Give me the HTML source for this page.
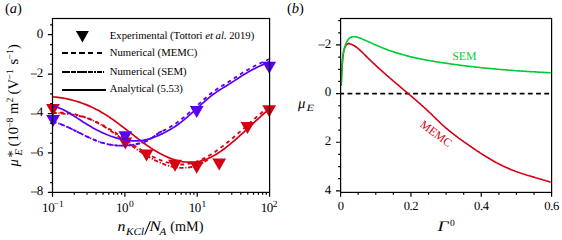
<!DOCTYPE html><html><head><meta charset="utf-8"><style>html,body{margin:0;padding:0;background:#fff;}svg{display:block;}text{font-family:"Liberation Serif",serif;text-rendering:geometricPrecision;}</style></head><body>
<svg width="562" height="237" viewBox="0 0 562 237">
<g fill="none">
<path d="M52.5,96.8 L54.3,97.0 L56.1,97.2 L58.0,97.4 L59.8,97.6 L61.6,97.9 L63.4,98.2 L65.3,98.5 L67.1,98.9 L68.9,99.3 L70.7,99.7 L72.6,100.2 L74.4,100.7 L76.2,101.2 L78.0,101.8 L79.9,102.4 L81.7,103.0 L83.5,103.7 L85.3,104.4 L87.2,105.1 L89.0,105.9 L90.8,106.7 L92.6,107.6 L94.5,108.4 L96.3,109.4 L98.1,110.3 L99.9,111.3 L101.8,112.4 L103.6,113.4 L105.4,114.6 L107.2,115.7 L109.1,116.9 L110.9,118.2 L112.7,119.4 L114.5,120.7 L116.4,122.1 L118.2,123.4 L120.0,124.8 L121.8,126.2 L123.7,127.6 L125.5,129.0 L127.3,130.4 L129.1,131.8 L130.9,133.2 L132.8,134.7 L134.6,136.1 L136.4,137.5 L138.2,138.9 L140.1,140.3 L141.9,141.6 L143.7,143.0 L145.5,144.3 L147.4,145.6 L149.2,146.8 L151.0,148.1 L152.8,149.3 L154.7,150.4 L156.5,151.5 L158.3,152.6 L160.1,153.6 L162.0,154.5 L163.8,155.5 L165.6,156.3 L167.4,157.1 L169.3,157.9 L171.1,158.6 L172.9,159.2 L174.7,159.8 L176.6,160.3 L178.4,160.8 L180.2,161.2 L182.0,161.6 L183.9,161.8 L185.7,162.0 L187.5,162.2 L189.3,162.2 L191.2,162.2 L193.0,162.2 L194.8,162.0 L196.6,161.8 L198.4,161.5 L200.3,161.1 L202.1,160.6 L203.9,160.1 L205.7,159.4 L207.6,158.7 L209.4,157.9 L211.2,157.1 L213.0,156.1 L214.9,155.1 L216.7,154.0 L218.5,152.8 L220.3,151.6 L222.2,150.3 L224.0,149.0 L225.8,147.6 L227.6,146.2 L229.5,144.7 L231.3,143.2 L233.1,141.7 L234.9,140.1 L236.8,138.5 L238.6,136.9 L240.4,135.2 L242.2,133.6 L244.1,131.9 L245.9,130.2 L247.7,128.5 L249.5,126.8 L251.4,125.1 L253.2,123.4 L255.0,121.7 L256.8,120.0 L258.7,118.3 L260.5,116.7 L262.3,115.0 L264.1,113.4 L266.0,111.8 L267.8,110.3 L269.6,108.7" stroke="#d50014" stroke-width="1.70"/>
<path d="M52.5,113.1 L54.3,112.9 L56.1,112.8 L58.0,112.7 L59.8,112.6 L61.6,112.6 L63.4,112.7 L65.3,112.8 L67.1,113.0 L68.9,113.2 L70.7,113.5 L72.6,113.8 L74.4,114.2 L76.2,114.6 L78.0,115.0 L79.9,115.5 L81.7,116.1 L83.5,116.7 L85.3,117.3 L87.2,118.0 L89.0,118.7 L90.8,119.4 L92.6,120.2 L94.5,121.0 L96.3,121.9 L98.1,122.8 L99.9,123.7 L101.8,124.7 L103.6,125.6 L105.4,126.7 L107.2,127.7 L109.1,128.8 L110.9,129.9 L112.7,131.0 L114.5,132.2 L116.4,133.3 L118.2,134.5 L120.0,135.8 L121.8,137.0 L123.7,138.2 L125.5,139.5 L127.3,140.7 L129.1,142.0 L130.9,143.2 L132.8,144.5 L134.6,145.7 L136.4,146.9 L138.2,148.1 L140.1,149.3 L141.9,150.4 L143.7,151.6 L145.5,152.7 L147.4,153.7 L149.2,154.7 L151.0,155.7 L152.8,156.7 L154.7,157.6 L156.5,158.4 L158.3,159.3 L160.1,160.0 L162.0,160.7 L163.8,161.4 L165.6,162.0 L167.4,162.5 L169.3,163.0 L171.1,163.5 L172.9,163.8 L174.7,164.1 L176.6,164.3 L178.4,164.5 L180.2,164.5 L182.0,164.5 L183.9,164.5 L185.7,164.3 L187.5,164.0 L189.3,163.7 L191.2,163.3 L193.0,162.8 L194.8,162.3 L196.6,161.6 L198.4,160.9 L200.3,160.1 L202.1,159.3 L203.9,158.4 L205.7,157.5 L207.6,156.4 L209.4,155.4 L211.2,154.3 L213.0,153.1 L214.9,151.9 L216.7,150.6 L218.5,149.3 L220.3,148.0 L222.2,146.6 L224.0,145.2 L225.8,143.7 L227.6,142.2 L229.5,140.7 L231.3,139.2 L233.1,137.7 L234.9,136.1 L236.8,134.5 L238.6,132.9 L240.4,131.3 L242.2,129.7 L244.1,128.1 L245.9,126.4 L247.7,124.8 L249.5,123.2 L251.4,121.5 L253.2,119.9 L255.0,118.3 L256.8,116.7 L258.7,115.1 L260.5,113.6 L262.3,112.0 L264.1,110.5 L266.0,109.0 L267.8,107.5 L269.6,106.0" stroke="#d50014" stroke-width="1.80" stroke-dasharray="3.8 3.6"/>
<path d="M52.5,112.8 L54.3,112.9 L56.1,113.0 L58.0,113.2 L59.8,113.3 L61.6,113.5 L63.4,113.6 L65.3,113.8 L67.1,114.0 L68.9,114.2 L70.7,114.4 L72.6,114.7 L74.4,115.0 L76.2,115.3 L78.0,115.7 L79.9,116.1 L81.7,116.6 L83.5,117.1 L85.3,117.6 L87.2,118.2 L89.0,118.9 L90.8,119.6 L92.6,120.4 L94.5,121.3 L96.3,122.2 L98.1,123.1 L99.9,124.1 L101.8,125.2 L103.6,126.3 L105.4,127.4 L107.2,128.5 L109.1,129.7 L110.9,131.0 L112.7,132.2 L114.5,133.5 L116.4,134.8 L118.2,136.1 L120.0,137.4 L121.8,138.7 L123.7,140.0 L125.5,141.3 L127.3,142.6 L129.1,144.0 L130.9,145.3 L132.8,146.5 L134.6,147.8 L136.4,149.1 L138.2,150.3 L140.1,151.5 L141.9,152.7 L143.7,153.8 L145.5,155.0 L147.4,156.1 L149.2,157.1 L151.0,158.1 L152.8,159.1 L154.7,160.1 L156.5,161.0 L158.3,161.8 L160.1,162.6 L162.0,163.4 L163.8,164.1 L165.6,164.8 L167.4,165.4 L169.3,165.9 L171.1,166.4 L172.9,166.8 L174.7,167.1 L176.6,167.4 L178.4,167.6 L180.2,167.8 L182.0,167.8 L183.9,167.8 L185.7,167.7 L187.5,167.6 L189.3,167.3 L191.2,167.0 L193.0,166.6 L194.8,166.1 L196.6,165.5 L198.4,164.8 L200.3,164.0 L202.1,163.1 L203.9,162.1 L205.7,161.0 L207.6,159.9" stroke="#d50014" stroke-width="1.80" stroke-dasharray="4.2 1.8 1.2 1.6"/>
</g>
<path d="M46.10,104.00 L59.90,104.00 L53.00,116.00 Z" fill="#d50014"/>
<path d="M118.40,137.50 L132.20,137.50 L125.30,149.50 Z" fill="#d50014"/>
<path d="M139.60,149.60 L153.40,149.60 L146.50,161.60 Z" fill="#d50014"/>
<path d="M168.10,159.80 L181.90,159.80 L175.00,171.80 Z" fill="#d50014"/>
<path d="M189.80,161.80 L203.60,161.80 L196.70,173.80 Z" fill="#d50014"/>
<path d="M212.30,158.60 L226.10,158.60 L219.20,170.60 Z" fill="#d50014"/>
<path d="M240.60,122.10 L254.40,122.10 L247.50,134.10 Z" fill="#d50014"/>
<path d="M262.30,105.20 L276.10,105.20 L269.20,117.20 Z" fill="#d50014"/>
<g fill="none">
<path d="M52.5,106.1 L54.3,106.4 L56.1,106.9 L58.0,107.5 L59.8,108.2 L61.6,109.0 L63.4,109.8 L65.3,110.8 L67.1,111.8 L68.9,112.8 L70.7,113.9 L72.6,115.1 L74.4,116.2 L76.2,117.4 L78.0,118.6 L79.9,119.8 L81.7,121.0 L83.5,122.2 L85.3,123.3 L87.2,124.5 L89.0,125.6 L90.8,126.6 L92.6,127.7 L94.5,128.7 L96.3,129.7 L98.1,130.6 L99.9,131.5 L101.8,132.4 L103.6,133.2 L105.4,134.0 L107.2,134.8 L109.1,135.5 L110.9,136.2 L112.7,136.8 L114.5,137.4 L116.4,137.9 L118.2,138.5 L120.0,138.9 L121.8,139.4 L123.7,139.7 L125.5,140.1 L127.3,140.3 L129.1,140.6 L130.9,140.7 L132.8,140.8 L134.6,140.9 L136.4,140.9 L138.2,140.8 L140.1,140.7 L141.9,140.5 L143.7,140.2 L145.5,139.8 L147.4,139.4 L149.2,138.9 L151.0,138.3 L152.8,137.7 L154.7,137.0 L156.5,136.3 L158.3,135.6 L160.1,134.7 L162.0,133.9 L163.8,133.0 L165.6,132.1 L167.4,131.1 L169.3,130.1 L171.1,129.0 L172.9,127.9 L174.7,126.7 L176.6,125.5 L178.4,124.2 L180.2,122.8 L182.0,121.4 L183.9,119.9 L185.7,118.4 L187.5,116.8 L189.3,115.2 L191.2,113.6 L193.0,112.0 L194.8,110.3 L196.6,108.6 L198.4,107.0 L200.3,105.3 L202.1,103.7 L203.9,102.1 L205.7,100.5 L207.6,98.9 L209.4,97.4 L211.2,95.9 L213.0,94.5 L214.9,93.2 L216.7,91.9 L218.5,90.7 L220.3,89.6 L222.2,88.4 L224.0,87.3 L225.8,86.2 L227.6,85.1 L229.5,83.9 L231.3,82.8 L233.1,81.6 L234.9,80.4 L236.8,79.2 L238.6,78.0 L240.4,76.8 L242.2,75.6 L244.1,74.5 L245.9,73.4 L247.7,72.3 L249.5,71.3 L251.4,70.3 L253.2,69.3 L255.0,68.4 L256.8,67.5 L258.7,66.6 L260.5,65.7 L262.3,64.9 L264.1,64.0 L266.0,63.2 L267.8,62.4 L269.6,61.6" stroke="#5a00f0" stroke-width="1.70"/>
<path d="M52.5,121.6 L54.2,122.1 L56.0,122.6 L57.7,123.1 L59.5,123.7 L61.2,124.4 L63.0,125.0 L64.7,125.8 L66.5,126.5 L68.2,127.3 L69.9,128.1 L71.7,129.0 L73.4,129.8 L75.2,130.7 L76.9,131.6 L78.7,132.5 L80.4,133.3 L82.1,134.2 L83.9,135.1 L85.6,136.0 L87.4,136.8 L89.1,137.6 L90.9,138.4 L92.6,139.2 L94.4,139.9 L96.1,140.6 L97.8,141.3 L99.6,141.9 L101.3,142.5 L103.1,143.0 L104.8,143.4 L106.6,143.9 L108.3,144.3 L110.1,144.6 L111.8,144.9 L113.5,145.1 L115.3,145.3 L117.0,145.5 L118.8,145.6 L120.5,145.7 L122.3,145.7 L124.0,145.6 L125.8,145.6 L127.5,145.4 L129.2,145.3 L131.0,145.1 L132.7,144.8 L134.5,144.5 L136.2,144.1 L138.0,143.7 L139.7,143.3 L141.4,142.8 L143.2,142.3 L144.9,141.7 L146.7,141.0 L148.4,140.4 L160.1,132.1 L162.0,131.3 L163.8,130.4 L165.6,129.5 L167.4,128.5 L169.3,127.5 L171.1,126.4 L172.9,125.3 L174.7,124.1 L176.6,122.9 L178.4,121.6 L180.2,120.2 L182.0,118.8 L183.9,117.3 L185.7,115.8 L187.5,114.2 L189.3,112.6 L191.2,111.0 L193.0,109.4 L194.8,107.7 L196.6,106.0 L198.4,104.4 L200.3,102.7 L202.1,101.1 L203.9,99.5 L205.7,97.9 L207.6,96.3 L209.4,94.8 L211.2,93.3 L213.0,91.9 L214.9,90.6 L216.7,89.3 L218.5,88.1 L220.3,87.0 L222.2,85.8 L224.0,84.7 L225.8,83.6 L227.6,82.5 L229.5,81.3 L231.3,80.2 L233.1,79.0 L234.9,77.8 L236.8,76.6 L238.6,75.4 L240.4,74.2 L242.2,73.0 L244.1,71.9 L245.9,70.8 L247.7,69.7 L249.5,68.7 L251.4,67.7 L253.2,66.7 L255.0,65.8 L256.8,64.9 L258.7,64.0 L260.5,63.1 L262.3,62.3 L264.1,61.4 L266.0,60.6 L267.8,59.8 L269.6,59.0" stroke="#5a00f0" stroke-width="1.80" stroke-dasharray="3.8 3.6"/>
<path d="M52.5,121.6 L54.2,122.1 L56.0,122.6 L57.7,123.1 L59.5,123.7 L61.2,124.4 L63.0,125.0 L64.7,125.8 L66.5,126.5 L68.2,127.3 L69.9,128.1 L71.7,129.0 L73.4,129.8 L75.2,130.7 L76.9,131.6 L78.7,132.5 L80.4,133.3 L82.1,134.2 L83.9,135.1 L85.6,136.0 L87.4,136.8 L89.1,137.6 L90.9,138.4 L92.6,139.2 L94.4,139.9 L96.1,140.6 L97.8,141.3 L99.6,141.9 L101.3,142.5 L103.1,143.0 L104.8,143.4 L106.6,143.9 L108.3,144.3 L110.1,144.6 L111.8,144.9 L113.5,145.1 L115.3,145.3 L117.0,145.5 L118.8,145.6 L120.5,145.7 L122.3,145.7 L124.0,145.6 L125.8,145.6 L127.5,145.4 L129.2,145.3 L131.0,145.1 L132.7,144.8 L134.5,144.5 L136.2,144.1 L138.0,143.7 L139.7,143.3 L141.4,142.8 L143.2,142.3 L144.9,141.7 L146.7,141.0 L148.4,140.4 L160.1,132.1 L162.0,131.3" stroke="#5a00f0" stroke-width="1.80" stroke-dasharray="4.2 1.8 1.2 1.6"/>
</g>
<path d="M46.20,115.10 L60.00,115.10 L53.10,127.10 Z" fill="#5a00f0"/>
<path d="M118.40,131.30 L132.20,131.30 L125.30,143.30 Z" fill="#5a00f0"/>
<path d="M189.80,106.10 L203.60,106.10 L196.70,118.10 Z" fill="#5a00f0"/>
<path d="M262.30,61.80 L276.10,61.80 L269.20,73.80 Z" fill="#5a00f0"/>
<path d="M340.6,93.60 H551.6" stroke="#000" stroke-width="1.6" stroke-dasharray="4.8 3.4" stroke-dashoffset="1.3"/>
<path d="M341.1,85.8 L341.1,84.8 L341.1,83.8 L341.2,82.8 L341.2,81.8 L341.2,80.9 L341.3,79.9 L341.3,78.9 L341.3,77.9 L341.4,76.9 L341.4,76.0 L341.5,75.0 L341.6,74.0 L341.6,73.0 L341.7,72.1 L341.7,71.1 L341.8,70.1 L341.9,69.2 L342.0,68.2 L342.0,67.2 L342.1,66.3 L342.2,65.3 L342.3,64.3 L342.4,63.4 L342.5,62.4 L342.5,61.4 L342.6,60.4 L342.7,59.5 L342.8,58.5 L342.9,57.5 L343.0,56.5 L343.2,55.6 L343.3,54.6 L343.4,53.6 L343.5,52.6 L343.7,51.6 L343.9,50.7 L344.1,49.7 L344.4,48.7 L344.8,47.8 L345.2,46.8 L345.7,45.9 L346.3,45.0 L347.0,44.3 L347.8,43.8 L348.6,43.5 L349.5,43.6 L350.3,43.9 L351.2,44.2 L352.1,44.6 L352.9,45.0 L353.7,45.5 L354.6,46.0 L355.4,46.5 L356.1,47.0 L356.9,47.6 L357.7,48.2 L358.4,48.8 L359.2,49.4 L359.9,50.1 L360.6,50.8 L361.3,51.4 L362.1,52.1 L362.8,52.8 L363.5,53.5 L364.2,54.2 L364.9,54.9 L365.6,55.6 L366.3,56.4 L367.0,57.1 L367.7,57.8 L368.4,58.4 L369.1,59.1 L369.9,59.8 L370.6,60.5 L371.3,61.2 L372.0,61.9 L372.7,62.6 L373.4,63.2 L374.2,63.9 L374.9,64.6 L375.6,65.3 L376.3,65.9 L377.0,66.6 L377.8,67.3 L378.5,67.9 L379.2,68.6 L379.9,69.2 L380.7,69.9 L381.4,70.5 L382.1,71.2 L382.9,71.9 L383.6,72.5 L384.3,73.1 L385.0,73.8 L385.8,74.4 L386.5,75.1 L387.2,75.7 L388.0,76.4 L388.7,77.0 L389.5,77.6 L390.2,78.3 L390.9,78.9 L391.7,79.5 L392.4,80.2 L393.1,80.8 L393.9,81.5 L394.6,82.1 L395.4,82.7 L396.1,83.3 L396.9,84.0 L397.6,84.6 L398.3,85.2 L399.1,85.9 L399.8,86.5 L400.6,87.1 L401.3,87.8 L402.1,88.4 L402.8,89.0 L403.5,89.7 L404.3,90.3 L405.0,90.9 L405.8,91.5 L406.5,92.2 L407.3,92.8 L408.0,93.4 L408.8,94.1 L409.5,94.7 L410.3,95.3 L411.0,96.0 L411.8,96.6 L412.5,97.2 L413.2,97.9 L414.0,98.5 L414.7,99.2 L415.5,99.8 L416.2,100.5 L417.0,101.1 L417.7,101.7 L418.4,102.4 L419.2,103.0 L419.9,103.7 L420.7,104.3 L421.4,105.0 L422.1,105.6 L422.9,106.3 L423.6,107.0 L424.3,107.6 L425.0,108.3 L425.8,108.9 L426.5,109.6 L427.2,110.3 L427.9,110.9 L428.6,111.6 L429.4,112.3 L430.1,113.0 L430.8,113.6 L431.5,114.3 L432.2,115.0 L432.9,115.7 L433.6,116.4 L434.3,117.0 L435.0,117.7 L435.7,118.4 L436.4,119.1 L437.1,119.8 L437.8,120.5 L438.5,121.2 L439.2,121.8 L439.9,122.5 L440.6,123.2 L441.3,123.9 L442.0,124.5 L442.7,125.2 L443.5,125.8 L444.2,126.5 L444.9,127.1 L445.7,127.8 L446.4,128.4 L447.2,129.0 L447.9,129.7 L448.7,130.3 L449.4,130.9 L450.2,131.5 L450.9,132.1 L451.7,132.7 L452.5,133.3 L453.3,133.9 L454.0,134.5 L454.8,135.1 L455.6,135.7 L456.4,136.3 L457.2,136.9 L457.9,137.5 L458.7,138.1 L459.5,138.6 L460.3,139.2 L461.1,139.8 L461.9,140.4 L462.7,140.9 L463.5,141.5 L464.3,142.1 L465.1,142.6 L465.9,143.2 L466.7,143.8 L467.5,144.3 L468.3,144.9 L469.1,145.4 L469.9,146.0 L470.8,146.5 L471.6,147.1 L472.4,147.7 L473.2,148.2 L474.0,148.8 L474.8,149.3 L475.6,149.9 L476.4,150.4 L477.2,151.0 L478.0,151.5 L478.9,152.0 L479.7,152.6 L480.5,153.1 L481.3,153.6 L482.1,154.2 L483.0,154.7 L483.8,155.2 L484.6,155.7 L485.5,156.3 L486.3,156.8 L487.1,157.3 L488.0,157.8 L488.8,158.3 L489.6,158.8 L490.5,159.3 L491.3,159.8 L492.2,160.3 L493.0,160.8 L493.9,161.2 L494.7,161.7 L495.6,162.2 L496.5,162.7 L497.3,163.1 L498.2,163.6 L499.1,164.0 L499.9,164.5 L500.8,164.9 L501.7,165.3 L502.6,165.8 L503.4,166.2 L504.3,166.6 L505.2,167.0 L506.1,167.4 L507.0,167.8 L507.9,168.2 L508.8,168.6 L509.7,169.0 L510.6,169.4 L511.5,169.8 L512.4,170.1 L513.3,170.5 L514.2,170.8 L515.1,171.2 L516.0,171.5 L517.0,171.8 L517.9,172.2 L518.8,172.5 L519.7,172.8 L520.7,173.1 L521.6,173.4 L522.5,173.7 L523.5,174.0 L524.4,174.3 L525.4,174.6 L526.3,174.9 L527.2,175.2 L528.2,175.5 L529.1,175.8 L530.1,176.0 L531.0,176.3 L531.9,176.6 L532.9,176.9 L533.8,177.1 L534.8,177.4 L535.7,177.7 L536.7,178.0 L537.6,178.2 L538.5,178.5 L539.5,178.8 L540.4,179.1 L541.4,179.3 L542.3,179.6 L543.2,179.9 L544.2,180.2 L545.1,180.4 L546.0,180.7 L547.0,181.0 L547.9,181.3 L548.8,181.6 L549.8,181.9 L550.7,182.2" stroke="#d50014" stroke-width="1.6" fill="none" stroke-linejoin="round"/>
<path d="M341.1,85.8 L341.2,84.9 L341.3,84.1 L341.4,83.2 L341.4,82.3 L341.5,81.5 L341.6,80.6 L341.6,79.7 L341.7,78.9 L341.7,78.0 L341.7,77.2 L341.8,76.3 L341.8,75.5 L341.8,74.6 L341.8,73.8 L341.9,72.9 L341.9,72.1 L341.9,71.2 L341.9,70.4 L341.9,69.5 L342.0,68.7 L342.0,67.8 L342.0,67.0 L342.0,66.1 L342.1,65.3 L342.1,64.5 L342.2,63.6 L342.2,62.8 L342.2,61.9 L342.3,61.1 L342.4,60.2 L342.4,59.4 L342.5,58.6 L342.6,57.7 L342.7,56.9 L342.8,56.0 L342.9,55.2 L343.1,54.3 L343.2,53.5 L343.4,52.7 L343.5,51.8 L343.7,51.0 L343.9,50.1 L344.1,49.3 L344.4,48.4 L344.6,47.6 L344.9,46.7 L345.1,45.9 L345.4,45.0 L345.7,44.2 L346.1,43.3 L346.4,42.5 L346.8,41.7 L347.2,40.9 L347.7,40.2 L348.1,39.5 L348.6,38.9 L349.2,38.3 L349.8,37.8 L350.4,37.5 L351.1,37.2 L351.8,36.9 L352.6,36.8 L353.4,36.7 L354.2,36.7 L355.0,36.8 L355.9,36.9 L356.7,37.1 L357.6,37.3 L358.4,37.6 L359.3,37.8 L360.1,38.1 L361.0,38.4 L361.8,38.8 L362.6,39.1 L363.4,39.5 L364.2,39.8 L365.0,40.2 L365.8,40.5 L366.6,40.9 L367.4,41.2 L368.2,41.6 L369.0,41.9 L369.8,42.3 L370.6,42.6 L371.4,43.0 L372.1,43.3 L372.9,43.7 L373.7,44.0 L374.5,44.4 L375.3,44.7 L376.0,45.1 L376.8,45.4 L377.6,45.8 L378.4,46.1 L379.2,46.4 L380.0,46.8 L380.7,47.1 L381.5,47.4 L382.3,47.8 L383.1,48.1 L383.9,48.4 L384.7,48.7 L385.5,49.0 L386.3,49.3 L387.1,49.6 L387.8,49.9 L388.6,50.2 L389.4,50.5 L390.2,50.8 L391.0,51.0 L391.9,51.3 L392.7,51.6 L393.5,51.9 L394.3,52.1 L395.1,52.4 L395.9,52.6 L396.7,52.9 L397.5,53.1 L398.3,53.4 L399.1,53.6 L400.0,53.9 L400.8,54.1 L401.6,54.3 L402.4,54.6 L403.2,54.8 L404.1,55.0 L404.9,55.2 L405.7,55.5 L406.5,55.7 L407.4,55.9 L408.2,56.1 L409.0,56.3 L409.8,56.5 L410.7,56.7 L411.5,56.9 L412.3,57.1 L413.2,57.3 L414.0,57.5 L414.8,57.7 L415.7,57.9 L416.5,58.1 L417.4,58.2 L418.2,58.4 L419.0,58.6 L419.9,58.8 L420.7,58.9 L421.5,59.1 L422.4,59.3 L423.2,59.4 L424.1,59.6 L424.9,59.8 L425.8,59.9 L426.6,60.1 L427.4,60.2 L428.3,60.4 L429.1,60.5 L430.0,60.7 L430.8,60.8 L431.7,61.0 L432.5,61.1 L433.4,61.3 L434.2,61.4 L435.1,61.6 L435.9,61.7 L436.7,61.8 L437.6,62.0 L438.4,62.1 L439.3,62.2 L440.1,62.4 L441.0,62.5 L441.8,62.6 L442.7,62.8 L443.5,62.9 L444.4,63.0 L445.2,63.1 L446.1,63.3 L446.9,63.4 L447.8,63.5 L448.6,63.6 L449.5,63.8 L450.3,63.9 L451.2,64.0 L452.0,64.1 L452.9,64.2 L453.7,64.3 L454.6,64.5 L455.4,64.6 L456.3,64.7 L457.1,64.8 L458.0,64.9 L458.8,65.0 L459.7,65.1 L460.5,65.2 L461.4,65.4 L462.2,65.5 L463.0,65.6 L463.9,65.7 L464.7,65.8 L465.6,65.9 L466.4,66.0 L467.3,66.1 L468.1,66.2 L469.0,66.3 L469.8,66.4 L470.7,66.5 L471.5,66.6 L472.4,66.7 L473.2,66.8 L474.1,66.9 L474.9,67.0 L475.8,67.1 L476.6,67.2 L477.5,67.3 L478.3,67.3 L479.2,67.4 L480.0,67.5 L480.9,67.6 L481.7,67.7 L482.6,67.8 L483.4,67.9 L484.3,68.0 L485.1,68.0 L486.0,68.1 L486.8,68.2 L487.7,68.3 L488.5,68.4 L489.4,68.5 L490.2,68.5 L491.1,68.6 L491.9,68.7 L492.8,68.8 L493.6,68.9 L494.5,68.9 L495.3,69.0 L496.2,69.1 L497.0,69.2 L497.9,69.2 L498.7,69.3 L499.6,69.4 L500.4,69.5 L501.3,69.5 L502.1,69.6 L503.0,69.7 L503.8,69.8 L504.7,69.8 L505.5,69.9 L506.4,70.0 L507.2,70.0 L508.1,70.1 L508.9,70.2 L509.8,70.2 L510.6,70.3 L511.5,70.4 L512.3,70.4 L513.2,70.5 L514.0,70.5 L514.9,70.6 L515.7,70.7 L516.6,70.7 L517.4,70.8 L518.3,70.9 L519.2,70.9 L520.0,71.0 L520.9,71.0 L521.7,71.1 L522.6,71.1 L523.4,71.2 L524.3,71.3 L525.1,71.3 L526.0,71.4 L526.8,71.4 L527.7,71.5 L528.5,71.5 L529.4,71.6 L530.3,71.6 L531.1,71.7 L532.0,71.7 L532.8,71.8 L533.7,71.8 L534.5,71.9 L535.4,71.9 L536.2,72.0 L537.1,72.0 L538.0,72.1 L538.8,72.1 L539.7,72.2 L540.5,72.2 L541.4,72.3 L542.2,72.3 L543.1,72.4 L543.9,72.4 L544.8,72.5 L545.7,72.5 L546.5,72.6 L547.4,72.6 L548.2,72.6 L549.1,72.7 L550.0,72.7 L550.8,72.8" stroke="#00cc33" stroke-width="1.6" fill="none" stroke-linejoin="round"/>
<path d="M50.10,24.84 H52.50 M47.90,34.70 H52.50 M50.10,44.56 H52.50 M50.10,54.41 H52.50 M50.10,64.27 H52.50 M47.90,74.12 H52.50 M50.10,83.98 H52.50 M50.10,93.84 H52.50 M50.10,103.69 H52.50 M47.90,113.55 H52.50 M50.10,123.41 H52.50 M50.10,133.26 H52.50 M50.10,143.12 H52.50 M47.90,152.97 H52.50 M50.10,162.83 H52.50 M50.10,172.69 H52.50 M50.10,182.54 H52.50 M47.90,192.40 H52.50 M52.50,192.40 V196.80 M74.28,192.40 V194.80 M87.03,192.40 V194.80 M96.07,192.40 V194.80 M103.08,192.40 V194.80 M108.81,192.40 V194.80 M113.66,192.40 V194.80 M117.85,192.40 V194.80 M121.56,192.40 V194.80 M124.87,192.40 V196.80 M146.65,192.40 V194.80 M159.39,192.40 V194.80 M168.44,192.40 V194.80 M175.45,192.40 V194.80 M181.18,192.40 V194.80 M186.02,192.40 V194.80 M190.22,192.40 V194.80 M193.92,192.40 V194.80 M197.23,192.40 V196.80 M219.02,192.40 V194.80 M231.76,192.40 V194.80 M240.80,192.40 V194.80 M247.82,192.40 V194.80 M253.55,192.40 V194.80 M258.39,192.40 V194.80 M262.59,192.40 V194.80 M266.29,192.40 V194.80 M269.60,192.40 V196.80" stroke="#000" stroke-width="1.20" fill="none"/>
<rect x="52.50" y="18.50" width="217.10" height="173.90" stroke="#000" stroke-width="1.20" fill="none"/>
<path d="M338.20,20.64 H340.60 M338.20,32.80 H340.60 M336.00,44.96 H340.60 M338.20,57.12 H340.60 M338.20,69.28 H340.60 M338.20,81.44 H340.60 M336.00,93.60 H340.60 M338.20,105.76 H340.60 M338.20,117.92 H340.60 M338.20,130.08 H340.60 M336.00,142.24 H340.60 M338.20,154.40 H340.60 M338.20,166.56 H340.60 M338.20,178.72 H340.60 M336.00,190.88 H340.60 M340.60,192.40 V196.80 M358.18,192.40 V194.80 M375.77,192.40 V194.80 M393.35,192.40 V194.80 M410.93,192.40 V196.80 M428.52,192.40 V194.80 M446.10,192.40 V194.80 M463.68,192.40 V194.80 M481.27,192.40 V196.80 M498.85,192.40 V194.80 M516.43,192.40 V194.80 M534.02,192.40 V194.80 M551.60,192.40 V196.80" stroke="#000" stroke-width="1.20" fill="none"/>
<rect x="340.60" y="18.50" width="211.00" height="173.90" stroke="#000" stroke-width="1.20" fill="none"/>
<text x="43.3" y="37.50" font-size="13.0" text-anchor="end">0</text>
<text x="43.3" y="76.92" font-size="13.0" text-anchor="end">2</text>
<rect x="30.8" y="73.20" width="6.2" height="1.6" fill="#000" fill-opacity="0.45"/>
<text x="43.3" y="116.35" font-size="13.0" text-anchor="end">4</text>
<rect x="30.8" y="113.20" width="6.2" height="1.6" fill="#000" fill-opacity="0.45"/>
<text x="43.3" y="155.78" font-size="13.0" text-anchor="end">6</text>
<rect x="30.8" y="152.20" width="6.2" height="1.6" fill="#000" fill-opacity="0.45"/>
<text x="43.3" y="195.20" font-size="13.0" text-anchor="end">8</text>
<rect x="30.8" y="191.20" width="6.2" height="1.6" fill="#000" fill-opacity="0.45"/>
<text x="41.96" y="211.9" font-size="13.0" letter-spacing="-0.3">10</text>
<text x="53.60" y="206.7" font-size="9.5">−1</text>
<text x="115.90" y="211.9" font-size="13.0" letter-spacing="-0.3">10</text>
<text x="128.90" y="206.7" font-size="9.5">0</text>
<text x="188.66" y="211.9" font-size="13.0" letter-spacing="-0.3">10</text>
<text x="201.50" y="206.7" font-size="9.5">1</text>
<text x="260.66" y="211.9" font-size="13.0" letter-spacing="-0.3">10</text>
<text x="272.80" y="206.7" font-size="9.5">2</text>
<text x="331.3" y="47.76" font-size="13.0" text-anchor="end">2</text>
<text x="331.3" y="96.40" font-size="13.0" text-anchor="end">0</text>
<text x="331.3" y="145.04" font-size="13.0" text-anchor="end">2</text>
<text x="331.3" y="193.68" font-size="13.0" text-anchor="end">4</text>
<rect x="318.5" y="44.20" width="6.3" height="1.6" fill="#000" fill-opacity="0.45"/>
<text x="340.60" y="209.8" font-size="12.6" text-anchor="middle" letter-spacing="-0.4">0</text>
<text x="410.93" y="209.8" font-size="12.6" text-anchor="middle" letter-spacing="-0.4">0.2</text>
<text x="481.27" y="209.8" font-size="12.6" text-anchor="middle" letter-spacing="-0.4">0.4</text>
<text x="551.60" y="209.8" font-size="12.6" text-anchor="middle" letter-spacing="-0.4">0.6</text>
<text x="5" y="12.6" font-size="14.5">(<tspan font-style="italic">a</tspan>)</text>
<text x="287" y="12.6" font-size="14.5">(<tspan font-style="italic">b</tspan>)</text>
<text x="117.6" y="231" font-size="14.6" font-style="italic" textLength="7.9" lengthAdjust="spacingAndGlyphs">n</text>
<text x="125.9" y="234.7" font-size="10.4" font-style="italic" textLength="18.3" lengthAdjust="spacingAndGlyphs">KCl</text>
<path d="M144.7,234.6 L150.4,221.2" stroke="#000" stroke-width="1.05"/>
<text x="149.3" y="231" font-size="14.6" font-style="italic" textLength="11.6" lengthAdjust="spacingAndGlyphs">N</text>
<text x="159.4" y="234.7" font-size="10.4" font-style="italic" textLength="6.8" lengthAdjust="spacingAndGlyphs">A</text>
<text x="170.3" y="231" font-size="14.6" textLength="33.2" lengthAdjust="spacingAndGlyphs">(mM)</text>
<text transform="rotate(-90)" x="-166.40" y="18.20" font-size="14.6" font-style="italic">μ</text>
<text transform="rotate(-90)" x="-155.60" y="21.70" font-size="10.4" font-style="italic">E</text>
<text transform="rotate(-90)" x="-157.40" y="16.90" font-size="14.0">*</text>
<text transform="rotate(-90)" x="-146.40" y="18.20" font-size="14.6">(10</text>
<text transform="rotate(-90)" x="-128.00" y="13.10" font-size="9.8">−8</text>
<text transform="rotate(-90)" x="-114.00" y="18.20" font-size="14.6">m</text>
<text transform="rotate(-90)" x="-102.40" y="13.10" font-size="9.8">2</text>
<text transform="rotate(-90)" x="-94.40" y="18.20" font-size="14.6">(V</text>
<text transform="rotate(-90)" x="-79.60" y="13.10" font-size="9.8">−1</text>
<text transform="rotate(-90)" x="-64.40" y="18.20" font-size="14.6">s</text>
<text transform="rotate(-90)" x="-59.60" y="13.10" font-size="9.8">−1</text>
<text transform="rotate(-90)" x="-49.00" y="18.20" font-size="14.6">)</text>
<text x="298" y="108.0" font-size="14.6" font-style="italic">μ</text>
<text x="306.6" y="110.6" font-size="9.4" font-style="italic" textLength="7.6" lengthAdjust="spacingAndGlyphs">E</text>
<text x="437.6" y="230.7" font-size="14.6" font-style="italic" textLength="10.9" lengthAdjust="spacingAndGlyphs">Γ</text>
<text x="450.0" y="226.0" font-size="9.6">0</text>
<text x="452.3" y="60" font-size="11.8" fill="#00cc33">SEM</text>
<text transform="translate(419.3,126.0) rotate(36.5)" font-size="11.8" fill="#d50014">MEMC</text>
<path d="M75.9,30.9 L88.9,30.9 L82.4,42.6 Z" fill="#000"/>
<path d="M62,53 H68 M71,53 H76 M79,53 H85 M88,53 H93 M97,53 H102 M62,72 H70 M71,72 H76 M77,72 H87 M88,72 H93 M94,72 H96 M97,72 H102 M103,72 H104 M62,90 H106" stroke="#000" stroke-width="2"/>
<text x="109.8" y="38.8" font-size="10.7">Experimental (Tottori <tspan font-style="italic">et al.</tspan> 2019)</text>
<text x="109.8" y="55.8" font-size="10.7">Numerical (MEMC)</text>
<text x="109.8" y="74.8" font-size="10.7">Numerical (SEM)</text>
<text x="109.8" y="91.8" font-size="10.7">Analytical (5.53)</text>
</svg></body></html>
